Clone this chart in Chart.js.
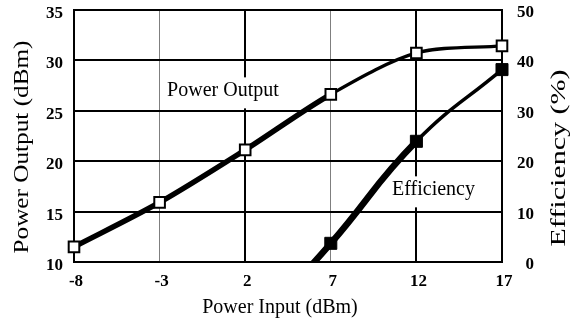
<!DOCTYPE html>
<html lang="en">
<head>
<meta charset="UTF-8">
<title>Power Output / Efficiency vs Power Input</title>
<script src="https://cdn.jsdelivr.net/npm/chart.js"></script>
<style>
    body { margin: 0; background: #fff; }
    canvas { display: block; }
</style>
</head>
<body>
<canvas id="chart" width="578" height="321"></canvas>
<script>
    // values
    const inputDbm = [-8, -3, 2, 7, 12, 17];
    const powerOut = [11.5, 15.9, 21.1, 26.6, 30.7, 31.4];
    // first two have no reading; the 2 dBm point sits below 0 % (line enters from the axis)
    const efficiency = [null, null, -15, 3.7, 23.9, 38.1];

    const xTicks = [-8, -3, 2, 7, 12, 17];

    const serif = '"Liberation Serif", "Times New Roman", serif';
    const tickFont = { family: serif, size: 17, weight: 'bold' };

    // in-chart series names, placed in data units
    const seriesLabels = [
        { text: 'Power Output', x: 0.7, y: 26.4, axis: 'y' },
        { text: 'Efficiency', x: 13.0, y: 13.2, axis: 'y1' }
    ];

    const textPlugin = {
        id: 'texts',
        beforeDatasetsDraw(chart) {
            const { ctx, scales } = chart;
            ctx.save();
            ctx.font = '20px ' + serif;
            ctx.textAlign = 'center';
            ctx.textBaseline = 'alphabetic';
            seriesLabels.forEach(l => {
                const x = scales.x.getPixelForValue(l.x);
                const y = scales[l.axis].getPixelForValue(l.y);
                const w = ctx.measureText(l.text).width;
                ctx.fillStyle = '#fff';
                ctx.fillRect(x - w / 2 - 4, y - 19, w + 8, 31);
                ctx.fillStyle = '#000';
                ctx.fillText(l.text, x, y);
            });
            ctx.restore();
        },
        afterDraw(chart) {
            const { ctx } = chart;
            ctx.save();
            ctx.fillStyle = '#000';
            ctx.font = '20px ' + serif;
            ctx.textAlign = 'center';
            ctx.textBaseline = 'alphabetic';
            ctx.fillText('Power Input (dBm)', 280, 313);

            // vertical titles read bottom to top on both sides
            const vTitle = (text, bx, cy, len) => {
                ctx.save();
                ctx.font = '21px ' + serif;
                const w = ctx.measureText(text).width;
                ctx.translate(bx, cy);
                ctx.rotate(-Math.PI / 2);
                ctx.scale(len / w, 1);
                ctx.fillText(text, 0, 0);
                ctx.restore();
            };
            vTitle('Power Output (dBm)', 28, 147, 213);
            vTitle('Efficiency (%)', 565, 158, 177);
            ctx.restore();
        }
    };

    const noPad = s => { s.paddingTop = 0; s.paddingBottom = 0; s.paddingLeft = 0; s.paddingRight = 0; };

    new Chart(document.getElementById('chart'), {
        type: 'line',
        data: {
            datasets: [
                {
                    label: 'Power Output',
                    data: inputDbm.map((x, i) => ({ x: x, y: powerOut[i] })),
                    yAxisID: 'y',
                    borderColor: '#000',
                    tension: 0.3,
                    borderCapStyle: 'round',
                    borderJoinStyle: 'round',
                    segment: { borderWidth: c => c.p0DataIndex < 3 ? 5.5 : 3.3 },
                    pointStyle: 'rect',
                    pointRadius: 7.5,
                    pointBackgroundColor: '#fff',
                    pointBorderColor: '#000',
                    pointBorderWidth: 2,
                    clip: { left: 12, right: 12, top: 12, bottom: 0 }
                },
                {
                    label: 'Efficiency',
                    data: inputDbm.map((x, i) => ({ x: x, y: efficiency[i] })),
                    yAxisID: 'y1',
                    borderColor: '#000',
                    tension: 0.45,
                    borderCapStyle: 'round',
                    borderJoinStyle: 'round',
                    segment: { borderWidth: c => c.p0DataIndex < 4 ? 6.5 : 3.5 },
                    pointStyle: 'rect',
                    pointRadius: 8.5,
                    pointBackgroundColor: '#000',
                    pointBorderColor: '#000',
                    pointBorderWidth: 1,
                    clip: { left: 12, right: 12, top: 12, bottom: 0 }
                }
            ]
        },
        options: {
            responsive: false,
            animation: false,
            layout: { padding: { top: 9, right: 44 } },
            plugins: { legend: { display: false }, tooltip: { enabled: false } },
            scales: {
                x: {
                    type: 'linear',
                    min: -8,
                    max: 17,
                    afterBuildTicks: s => { s.ticks = xTicks.map(v => ({ value: v })); },
                    afterFit: s => { s.height = 59; noPad(s); },
                    grid: {
                        drawTicks: false,
                        color: c => (c.tick && (c.tick.value === -3 || c.tick.value === 7)) ? '#7f7f7f' : '#000',
                        lineWidth: c => (c.tick && (c.tick.value === -3 || c.tick.value === 7)) ? 1 : 2
                    },
                    border: { display: true, color: '#000', width: 2 },
                    ticks: { color: '#000', font: tickFont, padding: 9, labelOffset: 2, maxRotation: 0 }
                },
                y: {
                    position: 'left',
                    min: 10,
                    max: 35,
                    afterFit: s => { s.width = 74; noPad(s); },
                    grid: { drawTicks: false, color: '#000', lineWidth: 2 },
                    border: { display: true, color: '#000', width: 2 },
                    ticks: { stepSize: 5, color: '#000', font: tickFont, padding: 11, labelOffset: 4 }
                },
                y1: {
                    position: 'right',
                    min: 0,
                    max: 50,
                    afterFit: s => { s.width = 32; noPad(s); },
                    grid: { display: false, drawTicks: false },
                    border: { display: true, color: '#000', width: 2 },
                    ticks: { stepSize: 10, color: '#000', font: tickFont, padding: 10, labelOffset: 3, crossAlign: 'far' }
                }
            }
        },
        plugins: [textPlugin]
    });
</script>
</body>
</html>
